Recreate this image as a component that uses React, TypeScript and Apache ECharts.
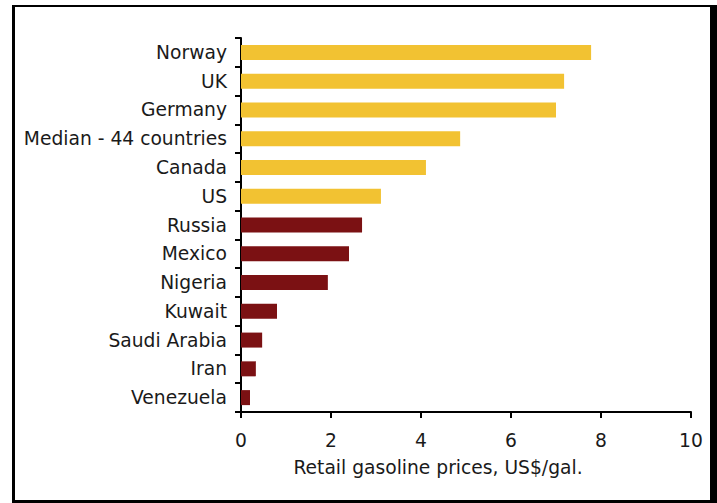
import React, { useEffect, useRef } from "react";
import * as echarts from "echarts";

const categories = [
  "Norway",
  "UK",
  "Germany",
  "Median - 44 countries",
  "Canada",
  "US",
  "Russia",
  "Mexico",
  "Nigeria",
  "Kuwait",
  "Saudi Arabia",
  "Iran",
  "Venezuela",
];
const prices = [7.78, 7.18, 7.0, 4.87, 4.11, 3.11, 2.69, 2.4, 1.93, 0.8, 0.47, 0.33, 0.2];
const groups = ["high", "high", "high", "high", "high", "high", "low", "low", "low", "low", "low", "low", "low"];
const groupColors: Record<string, string> = { high: "#F2C232", low: "#7B1113" };
const xTicks = [0, 2, 4, 6, 8, 10];
const axisTitle = "Retail gasoline prices, US$/gal.";

export default function App() {
  const ref = useRef<HTMLDivElement>(null);
  useEffect(() => {
    if (!ref.current) return;
    const chart = echarts.init(ref.current, null, { renderer: "svg" });
    const font = "DejaVu Sans, Verdana, sans-serif";
    const fs = 18.7;
    chart.setOption({
      animation: false,
      backgroundColor: "#fff",
      graphic: [
        { type: "rect", z: -10, shape: { x: 12, y: 5, width: 705, height: 498 }, style: { fill: "#000" } },
        { type: "rect", z: -9, shape: { x: 15, y: 7, width: 695, height: 493 }, style: { fill: "#fff" } },
      ],
      grid: { left: 241, right: 26, top: 38, bottom: 91, containLabel: false },
      xAxis: {
        type: "value",
        min: xTicks[0],
        max: xTicks[xTicks.length - 1],
        interval: 2,
        splitLine: { show: false },
        axisLine: { show: true, lineStyle: { color: "#000", width: 2 } },
        axisTick: { show: true, length: 6, lineStyle: { color: "#000", width: 2 } },
        axisLabel: { margin: 19, fontSize: fs, fontFamily: font, color: "#1a1a1a" },
        name: axisTitle,
        nameLocation: "middle",
        nameGap: 46,
        nameTextStyle: { fontSize: fs, fontFamily: font, color: "#1a1a1a", padding: [0, 56, 0, 0] },
      },
      yAxis: {
        type: "category",
        data: categories,
        inverse: true,
        axisLine: { show: true, lineStyle: { color: "#000", width: 2 } },
        axisTick: { show: true, length: 6, lineStyle: { color: "#000", width: 2 } },
        axisLabel: { margin: 14, fontSize: fs, fontFamily: font, color: "#1a1a1a" },
      },
      series: [
        {
          type: "bar",
          barWidth: 15,
          data: prices.map((v, i) => ({ value: v, itemStyle: { color: groupColors[groups[i]] } })),
        },
      ],
    });
    return () => chart.dispose();
  }, []);
  return (
    <div
      ref={ref}
      style={{ position: "fixed", left: 0, top: 0, width: 717, height: 503 }}
    />
  );
}
